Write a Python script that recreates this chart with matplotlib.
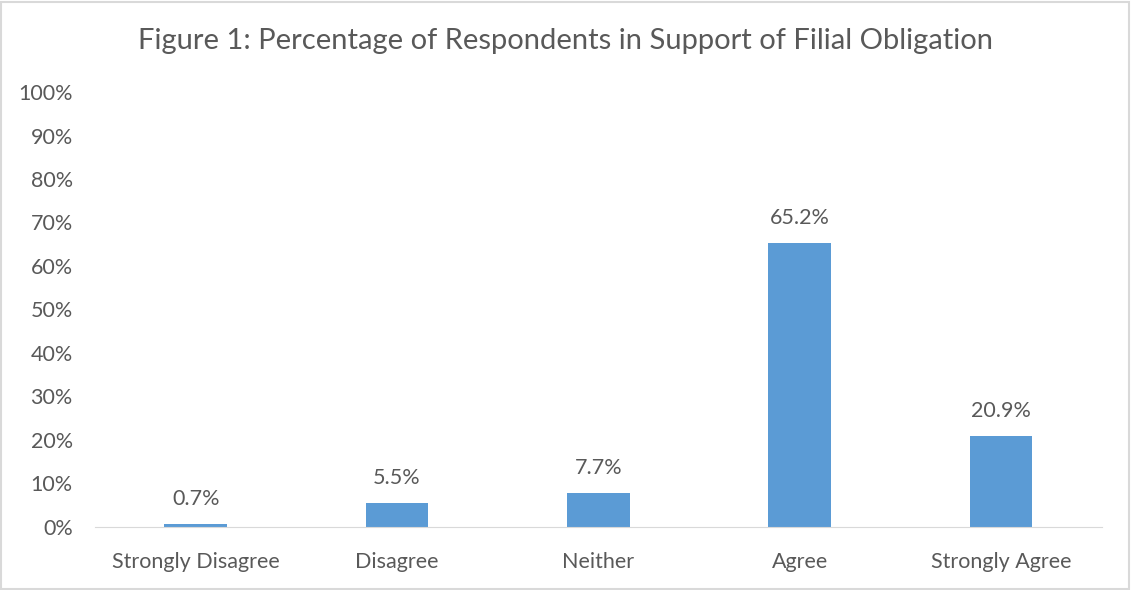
import matplotlib.pyplot as plt
import numpy as np
from matplotlib.patches import Rectangle

plt.rcParams['font.family'] = ['Lato', 'DejaVu Sans']

categories = ['Strongly Disagree', 'Disagree', 'Neither', 'Agree', 'Strongly Agree']
values = [0.7, 5.5, 7.7, 65.2, 20.9]
yticks = list(range(0, 101, 10))

text_color = '#595959'
bar_color = '#5B9BD5'

fig = plt.figure(figsize=(11.31, 5.9), dpi=100)
ax = fig.add_axes([0.084, 0.107, 0.89, 0.737])

x = np.arange(len(categories))
ax.bar(x, values, width=0.31, color=bar_color, zorder=2)
for xi, v in zip(x, values):
    ax.text(xi, v + 3.5, f'{v}%', ha='center', va='bottom', fontsize=15.5, color=text_color)

ax.set_xlim(-0.5, len(categories) - 0.5)
ax.set_ylim(0, 100)
ax.set_yticks(yticks)
ax.set_yticklabels([f'{t}%' for t in yticks])
ax.set_xticks(x)
ax.set_xticklabels(categories)
ax.tick_params(axis='both', length=0, labelsize=15.5, colors=text_color)
ax.tick_params(axis='y', pad=16)
ax.tick_params(axis='x', pad=18)

for side in ['top', 'right', 'left']:
    ax.spines[side].set_visible(False)
ax.spines['bottom'].set_color('#D9D9D9')

fig.text(0.5, 0.93, 'Figure 1: Percentage of Respondents in Support of Filial Obligation',
         ha='center', va='center', fontsize=21, color=text_color)

fig.patches.append(Rectangle((0.001, 0.002), 0.997, 0.995, transform=fig.transFigure,
                             fill=False, edgecolor='#D9D9D9', linewidth=1.5))

fig.savefig('out.png', dpi=100)
